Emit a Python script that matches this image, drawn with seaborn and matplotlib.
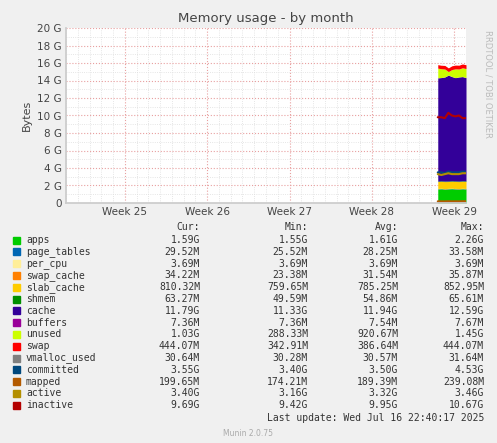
import numpy as np
import pandas as pd
import seaborn as sns
import matplotlib.pyplot as plt
from matplotlib.ticker import MultipleLocator

# === data (G, days relative to Week 25 tick) ===
days = [26.6, 26.9, 27.2, 27.5, 27.8, 28.1, 28.4, 28.7, 29.0]
apps = [1.60, 1.62, 1.58, 1.61, 1.63, 1.60, 1.59, 1.62, 1.59]
page_tables = [0.03] * 9
per_cpu = [0.004] * 9
swap_cache = [0.03] * 9
slab_cache = [0.78, 0.79, 0.80, 0.78, 0.79, 0.80, 0.79, 0.80, 0.81]
shmem = [0.06] * 9
cache = [11.8, 11.8, 11.9, 12.1, 11.9, 11.8, 11.9, 11.9, 11.8]
buffers = [0.007] * 9
unused = [1.1, 1.0, 0.9, 0.4, 0.8, 1.0, 0.9, 1.0, 1.03]
swap = [0.40, 0.40, 0.41, 0.42, 0.43, 0.43, 0.44, 0.44, 0.44]
vmalloc_used = [0.03] * 9
committed = [3.5, 3.5, 3.4, 3.6, 3.5, 3.5, 3.5, 3.6, 3.55]
mapped = [0.19, 0.19, 0.18, 0.20, 0.19, 0.19, 0.19, 0.20, 0.20]
active = [3.3, 3.2, 3.3, 3.4, 3.3, 3.3, 3.3, 3.4, 3.4]
inactive = [9.8, 9.8, 9.7, 10.3, 10.0, 9.9, 10.0, 9.7, 9.7]

week_pos = [0, 7, 14, 21, 28]
week_labels = ["Week 25", "Week 26", "Week 27", "Week 28", "Week 29"]

legend_rows = [
    ("apps", "#00CC00", "1.59G", "1.55G", "1.61G", "2.26G"),
    ("page_tables", "#0066B3", "29.52M", "25.52M", "28.25M", "33.58M"),
    ("per_cpu", "#FFEE99", "3.69M", "3.69M", "3.69M", "3.69M"),
    ("swap_cache", "#FF8000", "34.22M", "23.38M", "31.54M", "35.87M"),
    ("slab_cache", "#FFCC00", "810.32M", "759.65M", "785.25M", "852.95M"),
    ("shmem", "#008F00", "63.27M", "49.59M", "54.86M", "65.61M"),
    ("cache", "#330099", "11.79G", "11.33G", "11.94G", "12.59G"),
    ("buffers", "#990099", "7.36M", "7.36M", "7.54M", "7.67M"),
    ("unused", "#CCFF00", "1.03G", "288.33M", "920.67M", "1.45G"),
    ("swap", "#FF0000", "444.07M", "342.91M", "386.64M", "444.07M"),
    ("vmalloc_used", "#808080", "30.64M", "30.28M", "30.57M", "31.64M"),
    ("committed", "#00487D", "3.55G", "3.40G", "3.50G", "4.53G"),
    ("mapped", "#B35A00", "199.65M", "174.21M", "189.39M", "239.08M"),
    ("active", "#B38F00", "3.40G", "3.16G", "3.32G", "3.46G"),
    ("inactive", "#B30000", "9.69G", "9.42G", "9.95G", "10.67G"),
]
colors = {r[0]: r[1] for r in legend_rows}

sns.set_theme(style="white")
plt.rcParams["font.family"] = ["DejaVu Sans"]

fig = plt.figure(figsize=(4.97, 4.43), dpi=100, facecolor="#F0F0F0")
ax = fig.add_axes([66 / 497, 240 / 443, 400 / 497, 175 / 443])
ax.set_facecolor("white")

stack_names = ["apps", "page_tables", "per_cpu", "swap_cache", "slab_cache",
               "shmem", "cache", "buffers", "unused", "swap"]
stack_vals = [apps, page_tables, per_cpu, swap_cache, slab_cache,
              shmem, cache, buffers, unused, swap]
ax.stackplot(days, *stack_vals, colors=[colors[n] for n in stack_names], lw=0)

lines = pd.DataFrame({"days": days, "vmalloc_used": vmalloc_used, "committed": committed,
                      "mapped": mapped, "active": active, "inactive": inactive})
for n in ["vmalloc_used", "committed", "mapped", "active", "inactive"]:
    sns.lineplot(data=lines, x="days", y=n, color=colors[n], lw=1.5, ax=ax)

ax.set_xlim(-5, 29)
ax.set_ylim(0, 20)
ax.yaxis.set_major_locator(MultipleLocator(2))
ax.yaxis.set_minor_locator(MultipleLocator(1))
ax.set_yticks(range(0, 21, 2))
ax.set_yticklabels(["0"] + [f"{v} G" for v in range(2, 21, 2)], fontsize=7.5, color="#444")
ax.set_xticks(week_pos)
ax.set_xticklabels(week_labels, fontsize=7.5, color="#444")
ax.xaxis.set_minor_locator(MultipleLocator(1))
ax.grid(which="major", axis="y", color="#E8A0A0", ls=":", lw=0.8)
ax.grid(which="minor", axis="y", color="#DDDDDD", ls=":", lw=0.6)
ax.grid(which="major", axis="x", color="#E8A0A0", ls=":", lw=0.8)
ax.grid(which="minor", axis="x", color="#DDDDDD", ls=":", lw=0.6)
ax.set_axisbelow(True)
ax.tick_params(length=0, pad=3)
for s in ["top", "right"]:
    ax.spines[s].set_visible(False)
ax.spines["left"].set_color("#CCCCCC")
ax.spines["bottom"].set_color("#CCCCCC")
ax.set_xlabel("")
ax.set_ylabel("Bytes", fontsize=8, color="#444")
ax.set_title("Memory usage - by month", fontsize=9.5, color="#444", pad=4)

fig.text(488 / 497, 1 - 30 / 443, "RRDTOOL / TOBI OETIKER", rotation=270,
         fontsize=6, color="#BBBBBB", ha="center", va="top")

fs = 7
mono = "DejaVu Sans Mono"
def Y(py):
    return 1 - py / 443

for x, h in [(200, "Cur:"), (308, "Min:"), (398, "Avg:"), (484, "Max:")]:
    fig.text(x / 497, Y(227), h, fontsize=fs, family=mono, ha="right", va="center", color="#333")
for i, (name, c, cur, mn, avg, mx) in enumerate(legend_rows):
    py = 240 + i * 11.8
    fig.patches.append(plt.Rectangle((13 / 497, Y(py + 3.5)), 7 / 497, 7 / 443,
                                     transform=fig.transFigure, color=c, figure=fig))
    fig.text(26 / 497, Y(py), name, fontsize=fs, family=mono, va="center", color="#333")
    for x, v in [(200, cur), (308, mn), (398, avg), (484, mx)]:
        fig.text(x / 497, Y(py), v, fontsize=fs, family=mono, ha="right", va="center", color="#333")

fig.text(484 / 497, Y(418), "Last update: Wed Jul 16 22:40:17 2025", fontsize=fs,
         family=mono, ha="right", va="center", color="#333")
fig.text(248 / 497, Y(433), "Munin 2.0.75", fontsize=5.5, ha="center", va="center", color="#AAAAAA")

fig.savefig("out.png", dpi=100, facecolor=fig.get_facecolor())
